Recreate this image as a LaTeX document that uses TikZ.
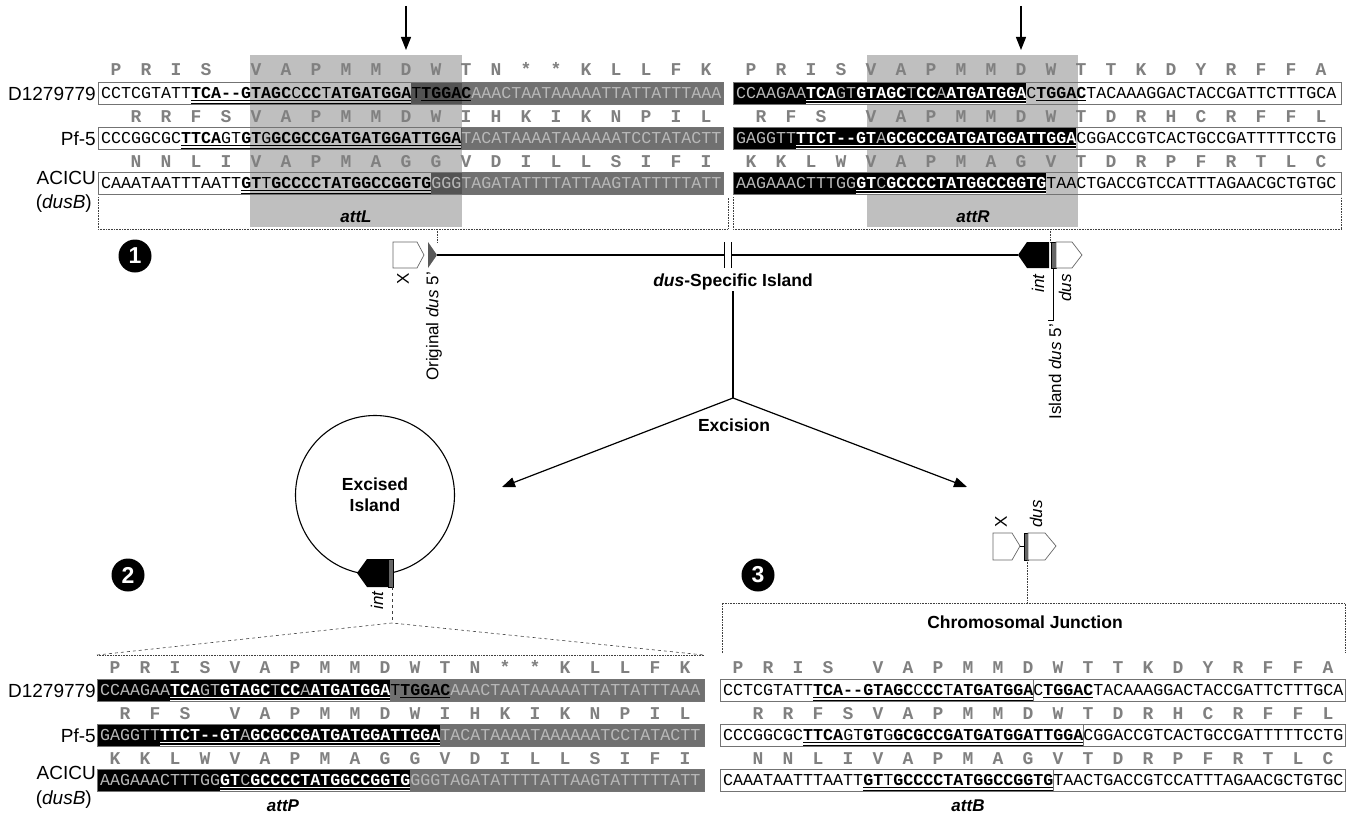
\documentclass[tikz,border=0pt]{standalone}
\usepackage{fontspec}
\setmainfont{Liberation Sans}
\setmonofont{Liberation Mono}
\usepackage{xcolor}
\usepackage{tikz}
\usetikzlibrary{arrows.meta}

\newcommand{\wb}[1]{\textcolor{white}{\textbf{#1}}}
\newcommand{\ltc}[1]{\textcolor{black!28}{#1}}
\newcommand{\aarow}[3]{\foreach \a [count=\k from 0] in {#3} \node[aa] (aa#1-\k) at (#1+30*\k,#2) {\a};}

\begin{document}
\begin{tikzpicture}[x=1pt,y=-1pt,
    seq/.style={inner sep=0pt,anchor=base west,font=\fontsize{16.67}{20}\selectfont\ttfamily},
    aa/.style={inner sep=0pt,anchor=base,text=black!50,font=\fontsize{18}{20}\selectfont\ttfamily\bfseries},
    seqbox/.style={draw=black!55,line width=0.7pt},
    attshade/.style={fill=black!25},
    darkfill/.style={fill=black,fill opacity=0.56},
    ul/.style={line width=1.1pt},
    ulthin/.style={line width=0.5pt},
    lbl/.style={inner sep=0pt,anchor=base east,font=\fontsize{19}{22}\selectfont},
    tag/.style={inner sep=0pt,font=\fontsize{17}{20}\selectfont},
    bhead/.style={inner sep=1pt,font=\fontsize{17.5}{21}\selectfont\bfseries},
    att/.style={inner sep=1pt,font=\fontsize{17}{20}\selectfont\bfseries\itshape},
    gene/.style={draw=black!60,fill=white,line width=0.7pt},
    bar/.style={draw=black,fill=black!60,line width=0.5pt},
    dotbox/.style={densely dotted,line width=0.6pt,black!75},
    dashbox/.style={dashed,line width=0.6pt,black!75},
    link/.style={line width=1.2pt},
    arr/.style={-{Triangle[length=13pt,width=10pt]}},
    num/.style={circle,fill=black,text=white,minimum size=33pt,inner sep=0pt,font=\fontsize{23}{26}\selectfont\bfseries}]
  \useasboundingbox (0,0) rectangle (1352,816);

  % --- attL / attR shading ---
  \fill[attshade] (250,55) rectangle (462,227);
  \fill[attshade] (867,55) rectangle (1078,227);

  % --- cut sites ---
  \coordinate (cutLtop) at (406,6);
  \coordinate (cutL) at (406,50);
  \coordinate (cutRtop) at (1021,6);
  \coordinate (cutR) at (1021,50);
  \draw[link,arr] (cutLtop) -- (cutL);
  \draw[link,arr] (cutRtop) -- (cutR);

  % --- attL rows ---
  \fill[darkfill] (411,82) rectangle (723,104);
  \fill[darkfill] (461,127) rectangle (723,149);
  \fill[darkfill] (431,172) rectangle (723,194);
  \foreach \y in {93,138,183} \draw[seqbox] (98,\y-11) rectangle (723,\y+11);
  \node[seq] (tl1) at (101,98.5) {CCTCGTATT\textbf{TCA--GTAGC}C\textbf{CC}T\textbf{ATGATGGA}T\textbf{TGGAC}\ltc{AAACTAATAAAAATTATTATTTAAA}};
  \node[seq] (tl2) at (101,143.5) {CCCGGCGC\textbf{TTCA}GT\textbf{GT}G\textbf{GCGCCGATGATGGATTGGA}\ltc{TACATAAAATAAAAAATCCTATACTT}};
  \node[seq] (tl3) at (101,188.5) {CAAATAATTTAATT\textbf{GT}T\textbf{GCCCCTATGGCCGGTG}\ltc{GGGTAGATATTTTATTAAGTATTTTTATT}};
  \aarow{116}{76}{P,R,I,S}
  \aarow{256}{76}{V,A,P,M,M,D,W,T,N,*,*,K,L,L,F,K}
  \aarow{136}{122}{R,R,F,S,V,A,P,M,M,D,W,I,H,K,I,K,N,P,I,L}
  \aarow{136}{167}{N,N,L,I,V,A,P,M,A,G,G,V,D,I,L,L,S,I,F,I}
  \node[lbl] (tl-d) at (96,100) {D1279779};
  \node[lbl] (tl-p) at (96,145) {Pf-5};
  \node[lbl] (tl-a) at (96,184) {ACICU};
  \node[lbl] (tl-b) at (92,208) {(\textit{dusB})};

  % --- attR rows ---
  \fill (733,82) rectangle (1026,104);
  \fill (733,127) rectangle (1076,149);
  \fill (733,172) rectangle (1046,194);
  \foreach \y in {93,138,183} \draw[seqbox] (733,\y-11) rectangle (1341,\y+11);
  \node[seq] (tr1) at (736,98.5) {\ltc{CCAAGAA}\wb{TCA}\ltc{GT}\wb{GTAGC}\ltc{T}\wb{CC}\ltc{A}\wb{ATGATGGA}C\textbf{TGGAC}TACAAAGGACTACCGATTCTTTGCA};
  \node[seq] (tr2) at (736,143.5) {\ltc{GAGGTT}\wb{TTCT--GT}\ltc{A}\wb{GCGCCGATGATGGATTGGA}CGGACCGTCACTGCCGATTTTTCCTG};
  \node[seq] (tr3) at (736,188.5) {\ltc{AAGAAACTTTGG}\wb{GT}\ltc{C}\wb{GCCCCTATGGCCGGTG}TAACTGACCGTCCATTTAGAACGCTGTGC};
  \aarow{751}{76}{P,R,I,S,V,A,P,M,M,D,W,T,T,K,D,Y,R,F,F,A}
  \aarow{761}{122}{R,F,S}
  \aarow{871}{122}{V,A,P,M,M,D,W,T,D,R,H,C,R,F,F,L}
  \aarow{751}{167}{K,K,L,W,V,A,P,M,A,G,V,T,D,R,P,F,R,T,L,C}

  % --- attP rows ---
  \fill (97,679) rectangle (390,701);
  \fill (97,724) rectangle (440,746);
  \fill (97,769) rectangle (410,791);
  \fill[darkfill] (390,679) rectangle (704,701);
  \fill[darkfill] (440,724) rectangle (704,746);
  \fill[darkfill] (410,769) rectangle (704,791);
  \foreach \y in {690,735,780} \draw[seqbox] (97,\y-11) rectangle (704,\y+11);
  \node[seq] (bl1) at (100,695.5) {\ltc{CCAAGAA}\wb{TCA}\ltc{GT}\wb{GTAGC}\ltc{T}\wb{CC}\ltc{A}\wb{ATGATGGA}T\textbf{TGGAC}\ltc{AAACTAATAAAAATTATTATTTAAA}};
  \node[seq] (bl2) at (100,740.5) {\ltc{GAGGTT}\wb{TTCT--GT}\ltc{A}\wb{GCGCCGATGATGGATTGGA}\ltc{TACATAAAATAAAAAATCCTATACTT}};
  \node[seq] (bl3) at (100,785.5) {\ltc{AAGAAACTTTGG}\wb{GT}\ltc{C}\wb{GCCCCTATGGCCGGTG}\ltc{GGGTAGATATTTTATTAAGTATTTTTATT}};
  \aarow{115}{673}{P,R,I,S,V,A,P,M,M,D,W,T,N,*,*,K,L,L,F,K}
  \aarow{125}{719}{R,F,S}
  \aarow{235}{719}{V,A,P,M,M,D,W,I,H,K,I,K,N,P,I,L}
  \aarow{115}{764}{K,K,L,W,V,A,P,M,A,G,G,V,D,I,L,L,S,I,F,I}
  \node[lbl] (bl-d) at (96,697) {D1279779};
  \node[lbl] (bl-p) at (96,742) {Pf-5};
  \node[lbl] (bl-a) at (96,779) {ACICU};
  \node[lbl] (bl-b) at (92,804) {(\textit{dusB})};

  % --- attB rows ---
  \foreach \y/\j in {690/1033,735/1083,780/1053} {
    \draw[seqbox] (720,\y-11) rectangle (1345,\y+11);
    \draw[seqbox] (\j,\y-11) -- (\j,\y+11);
  }
  \node[seq] (br1) at (723,695.5) {CCTCGTATT\textbf{TCA--GTAGC}C\textbf{CC}T\textbf{ATGATGGA}C\textbf{TGGAC}TACAAAGGACTACCGATTCTTTGCA};
  \node[seq] (br2) at (723,740.5) {CCCGGCGC\textbf{TTCA}GT\textbf{GT}G\textbf{GCGCCGATGATGGATTGGA}CGGACCGTCACTGCCGATTTTTCCTG};
  \node[seq] (br3) at (723,785.5) {CAAATAATTTAATT\textbf{GT}T\textbf{GCCCCTATGGCCGGTG}TAACTGACCGTCCATTTAGAACGCTGTGC};
  \aarow{738}{673}{P,R,I,S}
  \aarow{878}{673}{V,A,P,M,M,D,W,T,T,K,D,Y,R,F,F,A}
  \aarow{758}{719}{R,R,F,S,V,A,P,M,M,D,W,T,D,R,H,C,R,F,F,L}
  \aarow{758}{764}{N,N,L,I,V,A,P,M,A,G,V,T,D,R,P,F,R,T,L,C}

  % --- underlines of the core ---
  \foreach \a/\b/\y in {191/411/93,181/461/138,241/431/183,813/1033/690,803/1083/735,863/1053/780} {
    \draw[ul] (\a,\y+7.5) -- (\b,\y+7.5);
    \draw[ulthin] (\a,\y+10) -- (\b,\y+10);
  }
  \foreach \a/\b/\y in {806/1026/93,796/1076/138,856/1046/183,170/390/690,160/440/735,220/410/780} {
    \draw[ul,white] (\a,\y+7.5) -- (\b,\y+7.5);
    \draw[ulthin,white] (\a,\y+10) -- (\b,\y+10);
  }
  \foreach \a/\b/\y in {421/471/93,1036/1086/93,400/450/690,1043/1093/690}
    \draw[ul] (\a,\y+7.5) -- (\b,\y+7.5);

  \node[att] (attL) at (356,217) {attL};
  \node[att] (attR) at (973,217) {attR};
  \node[att] (attP) at (283,806) {attP};
  \node[att] (attB) at (968,806) {attB};

  % --- brackets round the top rows ---
  \draw[dotbox] (98,197) -- (98,229) -- (728,229) -- (728,197);
  \draw[dotbox] (733,197) -- (733,229) -- (1341,229) -- (1341,197);
  \draw[dotbox] (437,229) -- (437,242);
  \draw[dotbox] (1050,229) -- (1050,242);

  % --- chromosome with island ---
  \draw[gene] (393,242) -- (417,242) -- (424,255) -- (417,268) -- (393,268) -- cycle;
  \fill[black!65] (428,242) -- (437,255) -- (428,268) -- cycle;
  \draw[link] (437,255) -- (724,255);
  \draw[link] (731,255) -- (1018,255);
  \draw[line width=1pt] (724,242) -- (724,268) (731,242) -- (731,268);
  \fill (1018,255) -- (1027,242) -- (1049,242) -- (1049,268) -- (1027,268) -- cycle;
  \draw[bar] (1051,242) rectangle (1056,268);
  \draw[gene] (1056,242) -- (1072,242) -- (1082,255) -- (1072,268) -- (1056,268) -- cycle;
  \draw[line width=0.7pt] (1053,268) -- (1053,320) -- (1048,320);
  \node[tag,rotate=90,anchor=east] (xlab) at (403,273) {X};
  \node[tag,rotate=90,anchor=east] (origlab) at (434,272) {Original \textit{dus} 5'};
  \node[tag,rotate=90,anchor=east] (intlab) at (1038,274) {\textit{int}};
  \node[tag,rotate=90,anchor=east] (duslab) at (1065,274) {\textit{dus}};
  \node[tag,rotate=90,anchor=east] (islandlab) at (1055,324) {Island \textit{dus} 5'};
  \node[bhead] (island) at (733,282) {\textit{dus}-Specific Island};

  % --- excision ---
  \coordinate (fork) at (733,398);
  \coordinate (toCirc) at (502,487);
  \coordinate (toJunc) at (967,487);
  \draw[link] (island) -- (fork);
  \draw[link,arr] (fork) -- (toCirc);
  \draw[link,arr] (fork) -- (toJunc);
  \node[bhead] (excision) at (734,425) {Excision};

  % --- excised circle ---
  \node[circle,draw,line width=1.1pt,minimum size=159pt,align=center,bhead] (excised) at (375,495) {Excised\\Island};
  \fill (357,573) -- (367,559) -- (388,559) -- (388,587) -- (367,587) -- cycle;
  \draw[bar] (388,559) rectangle (393,587);
  \node[tag,rotate=90,anchor=east] (intlab2) at (377,591) {\textit{int}};
  \coordinate (apex) at (392,623);
  \draw[dashbox] (392,587) -- (apex);
  \draw[dashbox] (97,655) -- (apex) -- (704,655);
  \draw[dotbox] (97,655) -- (704,655);

  % --- chromosomal junction ---
  \draw[gene] (993,533) -- (1012,533) -- (1020,546) -- (1012,560) -- (993,560) -- cycle;
  \draw[line width=0.7pt] (1020,546) -- (1024,546);
  \draw[bar] (1024,533) rectangle (1028,560);
  \draw[gene] (1028,533) -- (1045,533) -- (1056,546) -- (1045,560) -- (1028,560) -- cycle;
  \node[tag,rotate=90,anchor=west] (xlab2) at (1001,528) {X};
  \node[tag,rotate=90,anchor=west] (duslab2) at (1036,528) {\textit{dus}};
  \draw[dotbox] (1027,560) -- (1027,603);
  \draw[dotbox] (722,653) -- (722,603) -- (1345,603) -- (1345,653);
  \node[bhead] (chrjunc) at (1025,622) {Chromosomal Junction};

  % --- step numbers ---
  \node[num] (n1) at (135,256) {1};
  \node[num] (n2) at (128,575) {2};
  \node[num] (n3) at (758,575) {3};
\end{tikzpicture}
\end{document}
